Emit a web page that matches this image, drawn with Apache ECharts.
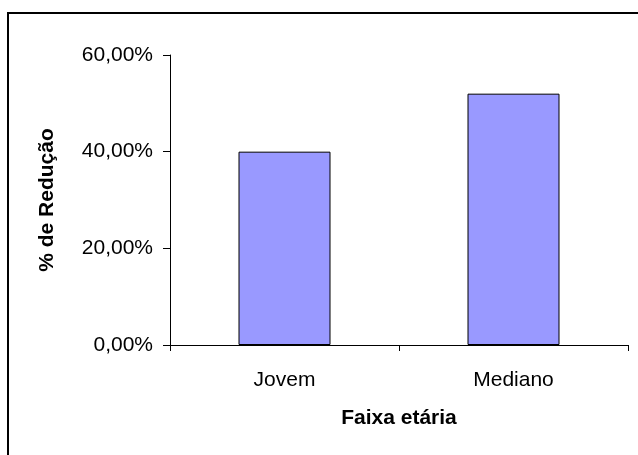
<!DOCTYPE html>
<html>
<head>
    <meta charset="UTF-8">
    <title>% de Redução por faixa etária</title>
    <script src="https://cdn.jsdelivr.net/npm/echarts@6/dist/echarts.min.js"></script>
    <style>
        html, body { margin: 0; padding: 0; background: #fff; }
        #main { width: 638px; height: 455px; }
    </style>
</head>
<body>
<div id="main"></div>
<script>
    // dados do gráfico
    var faixas = ['Jovem', 'Mediano'];
    var reducao = [40, 52];
    var yTicks = [0, 20, 40, 60];

    var fonte = 'Liberation Sans, Arial, sans-serif';

    var myChart = echarts.init(document.getElementById('main'));

    var option = {
        animation: false,
        grid: {
            left: 170,
            right: 10,
            top: 55,
            bottom: 110
        },
        graphic: [{
            type: 'rect',
            shape: { x: 8, y: 13, width: 640, height: 450 },
            style: { fill: 'none', stroke: '#000', lineWidth: 2 }
        }],
        xAxis: {
            type: 'category',
            data: faixas,
            name: 'Faixa etária',
            nameLocation: 'middle',
            nameGap: 63,
            nameTextStyle: { fontFamily: fonte, fontSize: 21, fontWeight: 'bold', color: '#000' },
            axisLine: { lineStyle: { color: '#000', width: 1 } },
            axisTick: { show: true, length: 6, lineStyle: { color: '#000' } },
            axisLabel: { margin: 25, fontFamily: fonte, fontSize: 21, color: '#000' }
        },
        yAxis: {
            type: 'value',
            min: yTicks[0],
            max: yTicks[yTicks.length - 1],
            interval: 20,
            name: '% de Redução',
            nameLocation: 'middle',
            nameGap: 112,
            nameTextStyle: { fontFamily: fonte, fontSize: 21, fontWeight: 'bold', color: '#000' },
            axisLine: { show: true, lineStyle: { color: '#000', width: 1 } },
            axisTick: { show: true, length: 7, lineStyle: { color: '#000' } },
            splitLine: { show: false },
            axisLabel: {
                margin: 17,
                fontFamily: fonte,
                fontSize: 21,
                color: '#000',
                formatter: function (v) {
                    return v.toFixed(2).replace('.', ',') + '%';
                }
            }
        },
        series: [{
            type: 'bar',
            data: reducao,
            barWidth: 92,
            itemStyle: { color: '#9999FF', borderColor: '#000', borderWidth: 1 }
        }]
    };

    myChart.setOption(option);
</script>
</body>
</html>
